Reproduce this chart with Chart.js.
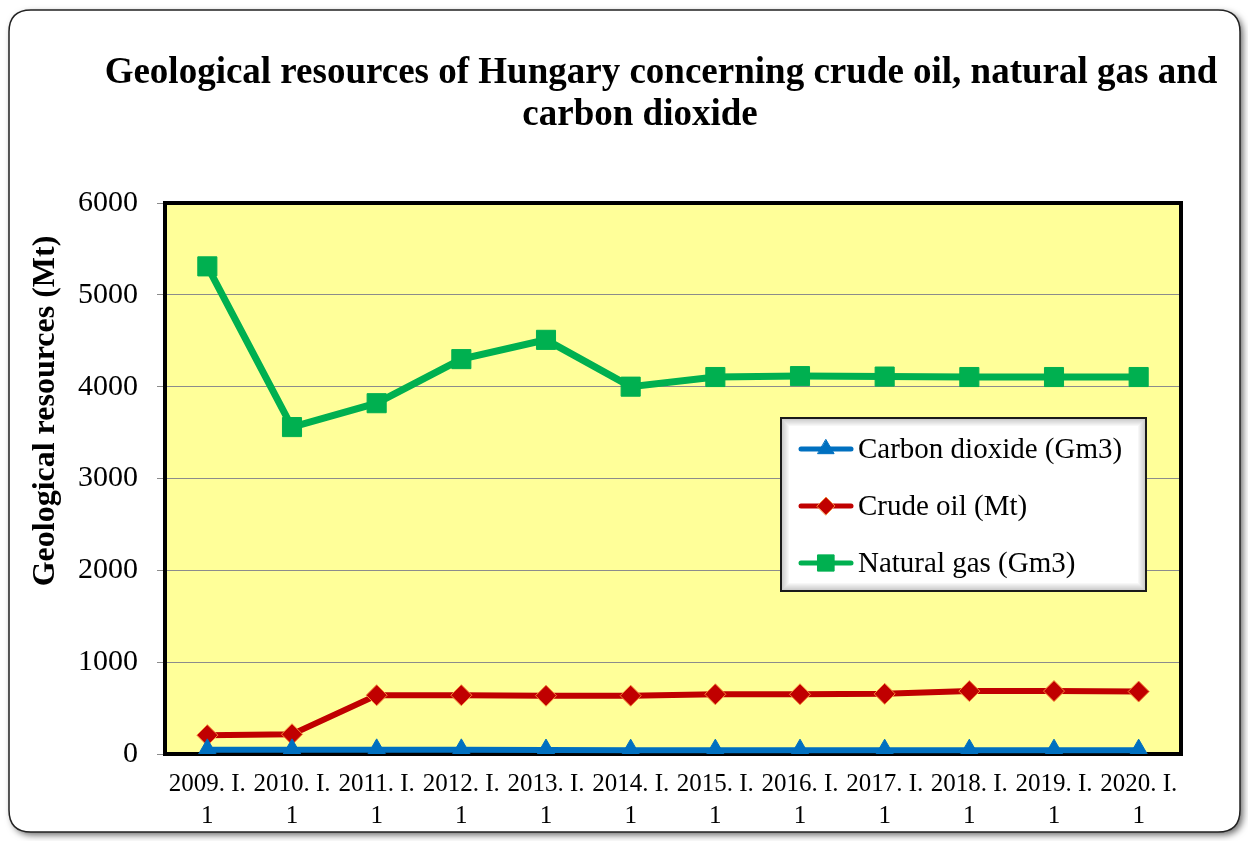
<!DOCTYPE html>
<html>
<head>
<meta charset="utf-8">
<script src="https://cdn.jsdelivr.net/npm/chart.js@4/dist/chart.umd.min.js"></script>
<style>
  html, body { margin: 0; padding: 0; background: #ffffff; }
  canvas { display: block; }
</style>
</head>
<body>
<canvas id="c" width="1248" height="841"></canvas>
<script>
// ---- data ----
const years = ['2009', '2010', '2011', '2012', '2013', '2014', '2015', '2016', '2017', '2018', '2019', '2020'];
const categories = years.map(y => [y + '. I.', '1']);
const co2 = [45, 45, 45, 45, 43, 42, 42, 42, 42, 42, 42, 42];
const crudeOil = [205, 215, 640, 640, 635, 635, 650, 650, 655, 685, 685, 680];
const naturalGas = [5310, 3560, 3820, 4300, 4510, 4000, 4105, 4115, 4110, 4105, 4105, 4105];
const yTicks = [0, 1000, 2000, 3000, 4000, 5000, 6000];
const titleLines = ['Geological resources of Hungary concerning crude oil, natural gas and', 'carbon dioxide'];
const yTitle = 'Geological resources (Mt)';

const SERIF = '"Liberation Serif", "Times New Roman", serif';

function roundRect(ctx, x, y, w, h, r) {
  ctx.beginPath();
  ctx.moveTo(x + r, y);
  ctx.lineTo(x + w - r, y);
  ctx.quadraticCurveTo(x + w, y, x + w, y + r);
  ctx.lineTo(x + w, y + h - r);
  ctx.quadraticCurveTo(x + w, y + h, x + w - r, y + h);
  ctx.lineTo(x + r, y + h);
  ctx.quadraticCurveTo(x, y + h, x, y + h - r);
  ctx.lineTo(x, y + r);
  ctx.quadraticCurveTo(x, y, x + r, y);
  ctx.closePath();
}

const framePlugin = {
  id: 'frame',
  beforeDraw(chart) {
    const ctx = chart.ctx;
    const ca = chart.chartArea;
    ctx.save();
    ctx.fillStyle = '#ffffff';
    ctx.fillRect(0, 0, chart.width, chart.height);
    // outer rounded frame with shadow
    ctx.shadowColor = 'rgba(0,0,0,0.6)';
    ctx.shadowBlur = 7;
    ctx.shadowOffsetX = 3;
    ctx.shadowOffsetY = 3;
    roundRect(ctx, 9, 10, 1231, 822, 22);
    ctx.fillStyle = '#ffffff';
    ctx.fill();
    ctx.shadowColor = 'transparent';
    ctx.lineWidth = 1.5;
    ctx.strokeStyle = '#222222';
    ctx.stroke();
    // plot area fill
    ctx.fillStyle = '#FFFF99';
    ctx.fillRect(ca.left, ca.top, ca.right - ca.left, ca.bottom - ca.top);
    // titles
    ctx.fillStyle = '#000000';
    ctx.font = 'bold 37px ' + SERIF;
    ctx.textAlign = 'center';
    ctx.textBaseline = 'alphabetic';
    ctx.fillText(titleLines[0], 661, 83);
    ctx.fillText(titleLines[1], 640, 125);
    ctx.save();
    ctx.translate(46, 411);
    ctx.rotate(-Math.PI / 2);
    ctx.font = 'bold 32px ' + SERIF;
    ctx.textBaseline = 'middle';
    ctx.fillText(yTitle, 0, 0);
    ctx.restore();
    ctx.restore();
  },
  beforeDatasetsDraw(chart) {
    const ctx = chart.ctx;
    const ca = chart.chartArea;
    ctx.save();
    ctx.strokeStyle = '#000000';
    ctx.lineWidth = 4;
    ctx.strokeRect(ca.left, ca.top, ca.right - ca.left, ca.bottom - ca.top);
    ctx.restore();
  }
};

const legendPlugin = {
  id: 'boxLegend',
  afterDatasetsDraw(chart) {
    const ctx = chart.ctx;
    const x = 781, y = 418, w = 365, h = 173;
    ctx.save();
    ctx.fillStyle = '#ffffff';
    ctx.fillRect(x, y, w, h);
    // inner shadow
    for (let i = 0; i < 8; i++) {
      ctx.strokeStyle = 'rgba(0,0,0,' + (0.22 - i * 0.027).toFixed(3) + ')';
      ctx.lineWidth = 1;
      ctx.strokeRect(x + i + 0.5, y + i + 0.5, w - 2 * i - 1, h - 2 * i - 1);
    }
    ctx.strokeStyle = '#1a1a1a';
    ctx.lineWidth = 2;
    ctx.strokeRect(x, y, w, h);
    const rows = [449, 506, 563];
    chart.data.datasets.forEach((ds, i) => {
      const cy = rows[i];
      ctx.strokeStyle = ds.borderColor;
      ctx.lineWidth = 5;
      ctx.lineCap = 'round';
      ctx.beginPath();
      ctx.moveTo(801, cy);
      ctx.lineTo(851, cy);
      ctx.stroke();
      ctx.save();
      ctx.fillStyle = ds.pointBackgroundColor;
      ctx.strokeStyle = ds.pointBorderColor;
      ctx.lineWidth = ds.pointBorderWidth;
      Chart.helpers.drawPoint(ctx, {
        pointStyle: ds.pointStyle,
        radius: ds.pointRadius * 0.85,
        rotation: 0,
        borderWidth: ds.pointBorderWidth
      }, 826, cy);
      ctx.restore();
      ctx.fillStyle = '#000000';
      ctx.font = '29px ' + SERIF;
      ctx.textAlign = 'left';
      ctx.textBaseline = 'middle';
      ctx.fillText(ds.label, 858, cy + 1);
    });
    ctx.restore();
  }
};

new Chart(document.getElementById('c'), {
  type: 'line',
  data: {
    labels: categories,
    datasets: [
      {
        label: 'Carbon dioxide (Gm3)',
        data: co2,
        borderColor: '#0070C0',
        borderWidth: 6,
        pointStyle: 'triangle',
        pointRadius: 11,
        pointBackgroundColor: '#0070C0',
        pointBorderColor: '#0070C0',
        pointBorderWidth: 1,
        tension: 0
      },
      {
        label: 'Crude oil (Mt)',
        data: crudeOil,
        borderColor: '#C00000',
        borderWidth: 6,
        pointStyle: 'rectRot',
        pointRadius: 10.5,
        pointBackgroundColor: '#C00000',
        pointBorderColor: '#F58A3C',
        pointBorderWidth: 1,
        tension: 0
      },
      {
        label: 'Natural gas (Gm3)',
        data: naturalGas,
        borderColor: '#00B050',
        borderWidth: 7,
        pointStyle: 'rect',
        pointRadius: 13.5,
        pointBackgroundColor: '#00B050',
        pointBorderColor: '#00B050',
        pointBorderWidth: 1,
        tension: 0
      }
    ]
  },
  options: {
    responsive: false,
    animation: false,
    layout: { padding: { top: 203, left: 20, right: 67, bottom: 10 } },
    plugins: {
      legend: { display: false },
      title: { display: false },
      tooltip: { enabled: false }
    },
    scales: {
      x: {
        offset: true,
        grid: { display: false },
        border: { display: false },
        ticks: {
          autoSkip: false,
          maxRotation: 0,
          minRotation: 0,
          padding: 6,
          color: '#000000',
          font: { family: SERIF, size: 25, lineHeight: 1.3 }
        },
        afterFit(scale) { scale.height = 77; }
      },
      y: {
        min: 0,
        max: 6000,
        afterBuildTicks(scale) { scale.ticks = yTicks.map(v => ({ value: v })); },
        grid: { color: '#8c8c8c', lineWidth: 1, tickLength: 8, drawTicks: true },
        border: { display: false },
        ticks: {
          padding: 19,
          color: '#000000',
          font: { family: SERIF, size: 30 },
          callback: (v) => String(v)
        },
        afterFit(scale) { scale.width = 145; }
      }
    }
  },
  plugins: [framePlugin, legendPlugin]
});
</script>
</body>
</html>
